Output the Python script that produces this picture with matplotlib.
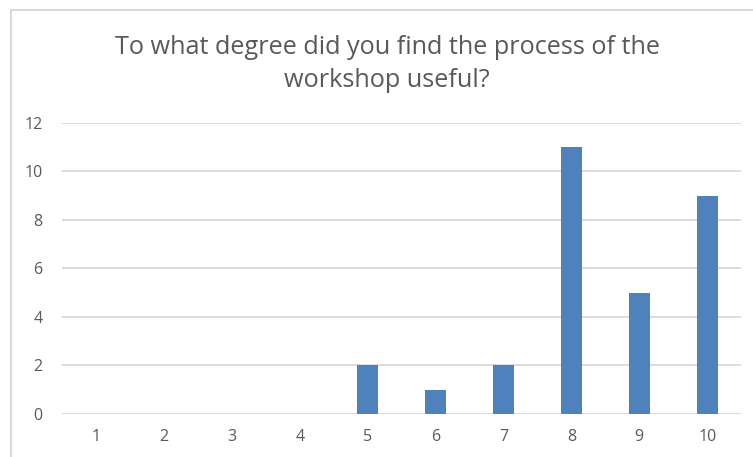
import matplotlib
matplotlib.use("Agg")
import matplotlib.pyplot as plt
from matplotlib.patches import Rectangle

# data
ratings = ["1", "2", "3", "4", "5", "6", "7", "8", "9", "10"]
counts = [0, 0, 0, 0, 2, 1, 2, 11, 5, 9]
yticks = [0, 2, 4, 6, 8, 10, 12]
title = "To what degree did you find the process of the\nworkshop useful?"

plt.rcParams["font.family"] = ["Open Sans", "DejaVu Sans"]
grey = "#595959"

fig = plt.figure(figsize=(7.53, 4.57), dpi=100)
ax = fig.add_axes([0.0823, 0.0941, 0.902, 0.6368])

x = range(len(ratings))
ax.bar(x, counts, width=0.31, color="#4F81BD", zorder=3)

ax.set_xlim(-0.5, len(ratings) - 0.5)
ax.set_ylim(0, 12)
ax.set_yticks(yticks)
ax.set_xticks(list(x))
ax.set_xticklabels(ratings)
ax.yaxis.grid(True, color="#D9D9D9", linewidth=1.3, zorder=0)
ax.tick_params(length=0, labelsize=11.5, labelcolor=grey)
ax.tick_params(axis="x", pad=11)
ax.tick_params(axis="y", pad=14)
for s in ax.spines.values():
    s.set_visible(False)

fig.text(0.514, 0.860, title, ha="center", va="center", fontsize=18.2,
         color=grey, linespacing=1.42)

# chart frame (only left/top edges are visible in the crop)
fig.patches.append(Rectangle((11 / 753, -0.1), 2, 1.1 - 10 / 457,
                             transform=fig.transFigure, fill=False,
                             edgecolor="#D9D9D9", linewidth=1.5))

fig.savefig("out.png", dpi=100)
